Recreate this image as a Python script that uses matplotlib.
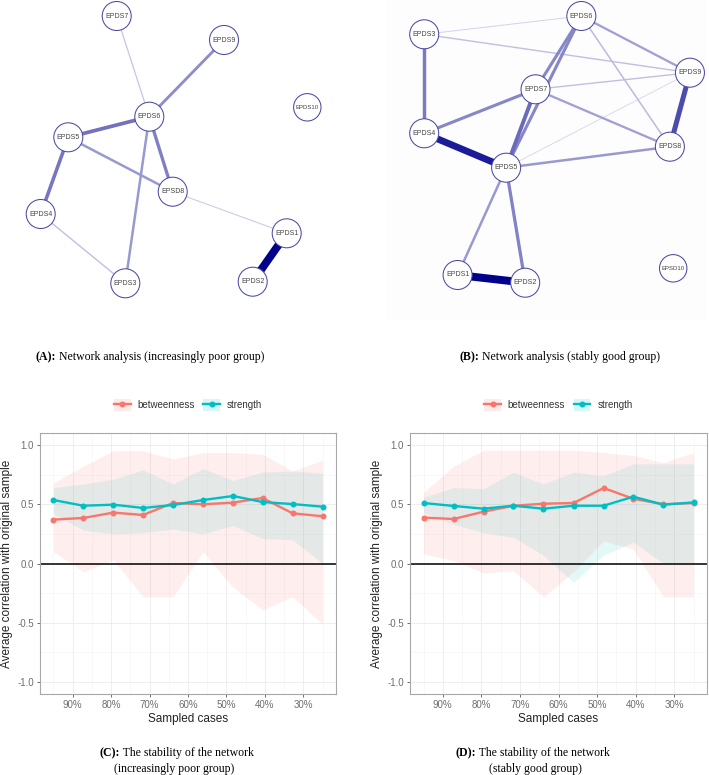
import matplotlib.pyplot as plt
import numpy as np
from matplotlib.lines import Line2D
from matplotlib.patches import Patch, Rectangle
from matplotlib.colors import LinearSegmentedColormap

W, H = 709, 775

# network A (increasingly poor group): layout in panel pixels
names_a = ['EPDS1', 'EPDS2', 'EPDS3', 'EPDS4', 'EPDS5', 'EPDS6', 'EPDS7', 'EPSD8', 'EPDS9', 'EPDS10']
xa = [286.7, 252.7, 125.3, 40.7, 68.3, 149.3, 116.7, 172.7, 224.0, 307.3]
ya = [233.3, 281.7, 283.3, 214.0, 137.3, 116.7, 16.0, 191.7, 40.0, 107.3]
edges_a = [('EPDS7', 'EPDS6'), ('EPDS9', 'EPDS6'), ('EPDS6', 'EPDS5'), ('EPDS6', 'EPSD8'),
           ('EPDS6', 'EPDS3'), ('EPDS5', 'EPSD8'), ('EPDS5', 'EPDS4'), ('EPDS4', 'EPDS3'),
           ('EPSD8', 'EPDS1'), ('EPDS1', 'EPDS2')]
w_a = [0.08, 0.30, 0.42, 0.36, 0.25, 0.25, 0.40, 0.10, 0.06, 1.0]

# network B (stably good group)
names_b = ['EPDS1', 'EPDS2', 'EPDS3', 'EPDS4', 'EPDS5', 'EPDS6', 'EPDS7', 'EPDS8', 'EPDS9', 'EPSD10']
xb = [103.3, 170.7, 70.0, 70.0, 151.7, 226.7, 181.0, 315.0, 335.0, 318.3]
yb = [275.0, 282.7, 34.3, 133.3, 167.7, 16.0, 89.3, 146.7, 72.7, 268.3]
edges_b = [('EPDS3', 'EPDS6'), ('EPDS3', 'EPDS9'), ('EPDS3', 'EPDS4'), ('EPDS6', 'EPDS7'),
           ('EPDS6', 'EPDS5'), ('EPDS6', 'EPDS9'), ('EPDS6', 'EPDS8'), ('EPDS7', 'EPDS9'),
           ('EPDS7', 'EPDS4'), ('EPDS7', 'EPDS8'), ('EPDS7', 'EPDS5'), ('EPDS4', 'EPDS5'),
           ('EPDS5', 'EPDS8'), ('EPDS5', 'EPDS9'), ('EPDS9', 'EPDS8'), ('EPDS5', 'EPDS1'),
           ('EPDS5', 'EPDS2'), ('EPDS1', 'EPDS2')]
w_b = [0.04, 0.10, 0.38, 0.33, 0.33, 0.22, 0.12, 0.10, 0.33, 0.22, 0.45, 0.85,
       0.25, 0.03, 0.60, 0.25, 0.35, 1.0]

# case-dropping stability
props = [0.95, 0.872, 0.794, 0.717, 0.639, 0.561, 0.483, 0.406, 0.328, 0.25]
pct_ticks = [0.9, 0.8, 0.7, 0.6, 0.5, 0.4, 0.3]
pct_minor = [0.95, 0.85, 0.75, 0.65, 0.55, 0.45, 0.35, 0.25]
pct_labels = ['90%', '80%', '70%', '60%', '50%', '40%', '30%']

bet_c = [0.37, 0.384, 0.429, 0.409, 0.51, 0.499, 0.513, 0.552, 0.423, 0.398]
bet_c_lo = [0.10, -0.07, 0.03, -0.28, -0.28, 0.10, -0.20, -0.39, -0.28, -0.51]
bet_c_hi = [0.68, 0.82, 0.95, 0.95, 0.88, 0.935, 0.935, 0.92, 0.78, 0.87]
str_c = [0.535, 0.487, 0.496, 0.468, 0.493, 0.535, 0.569, 0.518, 0.501, 0.479]
str_c_lo = [0.42, 0.28, 0.25, 0.26, 0.29, 0.25, 0.32, 0.21, 0.20, 0.0]
str_c_hi = [0.64, 0.67, 0.71, 0.79, 0.67, 0.80, 0.70, 0.77, 0.78, 0.76]

bet_d = [0.387, 0.375, 0.437, 0.487, 0.504, 0.51, 0.636, 0.546, 0.499, 0.51]
bet_d_lo = [0.08, 0.025, -0.08, -0.06, -0.28, -0.07, 0.19, 0.12, -0.28, -0.28]
bet_d_hi = [0.60, 0.82, 0.955, 0.955, 0.955, 0.955, 0.935, 0.91, 0.85, 0.935]
str_d = [0.51, 0.485, 0.462, 0.487, 0.462, 0.487, 0.487, 0.563, 0.496, 0.515]
str_d_lo = [0.43, 0.33, 0.26, 0.22, 0.07, -0.16, 0.07, 0.18, 0.0, 0.0]
str_d_hi = [0.56, 0.64, 0.63, 0.77, 0.67, 0.77, 0.74, 0.84, 0.84, 0.84]

RED = '#F8766D'
CYAN = '#00BFC4'
edge_cmap = LinearSegmentedColormap.from_list('edge', ['#e4e4f3', '#00008b'])

fig = plt.figure(figsize=(W / 100, H / 100), dpi=100)


def px_axes(left, top, width, height):
    return fig.add_axes([left / W, 1 - (top + height) / H, width / W, height / H])


# overlay in figure pixels for the faint panel background and captions
ov = px_axes(0, 0, W, H)
ov.set_xlim(0, W)
ov.set_ylim(H, 0)
ov.axis('off')
ov.set_zorder(-1)
ov.add_patch(Rectangle((386, 0), 321, 320, color='#fdfdfd', lw=0))


def draw_net(ax, names, xs, ys, edges, weights, small):
    pos = dict(zip(names, zip(xs, ys)))
    for (a, b), w in sorted(zip(edges, weights), key=lambda e: e[1]):
        ax.plot([pos[a][0], pos[b][0]], [pos[a][1], pos[b][1]],
                color=edge_cmap(w ** 0.8), lw=0.5 + 5.2 * w,
                solid_capstyle='butt', zorder=1)
    sizes = [390 if n == small else 436 for n in names]
    ax.scatter(xs, ys, s=sizes, facecolor='white', edgecolor='#4a4aa6', linewidth=0.75, zorder=2)
    for n, x, y in zip(names, xs, ys):
        ax.text(x, y, n, ha='center', va='center', fontsize=4.3 if n == small else 5,
                color='#444444', family='Liberation Sans', zorder=3)
    ax.set_xlim(0, 354)
    ax.set_ylim(300, 0)
    ax.axis('off')


ax_a = px_axes(0, 0, 354, 300)
draw_net(ax_a, names_a, xa, ya, edges_a, w_a, 'EPDS10')
ax_b = px_axes(354, 0, 355, 300)
draw_net(ax_b, names_b, xb, yb, edges_b, w_b, 'EPSD10')


def draw_stab(ax, bet, bet_lo, bet_hi, st, st_lo, st_hi):
    ax.fill_between(props, bet_lo, bet_hi, color=RED, alpha=0.12, lw=0)
    ax.fill_between(props, st_lo, st_hi, color=CYAN, alpha=0.1, lw=0)
    ax.axhline(0, color='black', lw=1.1, zorder=2)
    ax.plot(props, bet, color=RED, lw=1.7, marker='o', ms=3.3, zorder=3)
    ax.plot(props, st, color=CYAN, lw=1.7, marker='o', ms=3.3, zorder=4)
    ax.set_xlim(0.985, 0.215)
    ax.set_ylim(-1.1, 1.1)
    ax.set_xticks(pct_ticks)
    ax.set_xticklabels(pct_labels)
    ax.set_xticks(pct_minor, minor=True)
    ax.set_yticks([-1, -0.5, 0, 0.5, 1])
    ax.set_yticklabels(['-1.0', '-0.5', '0.0', '0.5', '1.0'])
    ax.set_yticks([-0.75, -0.25, 0.25, 0.75], minor=True)
    ax.grid(which='major', color='#ebebeb', lw=0.6)
    ax.grid(which='minor', color='#f4f4f4', lw=0.4)
    ax.set_axisbelow(True)
    ax.tick_params(which='major', length=2.5, width=0.6, color='#555555', pad=2,
                   labelsize=7, labelcolor='#6e6e6e')
    ax.tick_params(which='minor', length=0)
    for s in ax.spines.values():
        s.set_color('#a8a8a8')
        s.set_linewidth(0.8)
    ax.set_xlabel('Sampled cases', fontsize=8.5, color='#222222', labelpad=2, family='Liberation Sans')
    ax.set_ylabel('Average correlation with original sample', fontsize=8.5, color='#222222',
                  labelpad=3, family='Liberation Sans')
    for lab in ax.get_xticklabels() + ax.get_yticklabels():
        lab.set_family('Liberation Sans')
    handles = [(Patch(facecolor=RED, alpha=0.15, edgecolor='none'),
                Line2D([], [], color=RED, lw=1.7, marker='o', ms=3.3)),
               (Patch(facecolor=CYAN, alpha=0.15, edgecolor='none'),
                Line2D([], [], color=CYAN, lw=1.7, marker='o', ms=3.3))]
    ax.legend(handles, ['betweenness', 'strength'], loc='center', bbox_to_anchor=(0.5, 1.107),
              ncol=2, frameon=False, prop={'family': 'Liberation Sans', 'size': 7},
              handlelength=1.7, handleheight=1.6, handletextpad=0.7, columnspacing=0.9,
              labelcolor='#333333')


ax_c = px_axes(40, 433, 296, 261)
draw_stab(ax_c, bet_c, bet_c_lo, bet_c_hi, str_c, str_c_lo, str_c_hi)
ax_d = px_axes(410, 433, 297, 261)
draw_stab(ax_d, bet_d, bet_d_lo, bet_d_hi, str_d, str_d_lo, str_d_hi)


def caption(x, y, bold, rest):
    t = ov.text(x, y, bold, fontweight='bold', family='Liberation Serif', fontsize=8.5,
                va='center', ha='left', color='black')
    ov.annotate(rest, xy=(1, 0.5), xycoords=t, va='center', ha='left',
                family='Liberation Serif', fontsize=8.5, color='black')


caption(36, 357, '(A):', ' Network analysis (increasingly poor group)')
caption(459, 357, '(B):', ' Network analysis (stably good group)')
caption(100, 753, '(C):', ' The stability of the network')
ov.text(114, 769, '(increasingly poor group)', family='Liberation Serif', fontsize=8.5,
        va='center', ha='left')
caption(456, 753, '(D):', ' The stability of the network')
ov.text(489, 769, '(stably good group)', family='Liberation Serif', fontsize=8.5,
        va='center', ha='left')

fig.savefig('out.png', dpi=100)
